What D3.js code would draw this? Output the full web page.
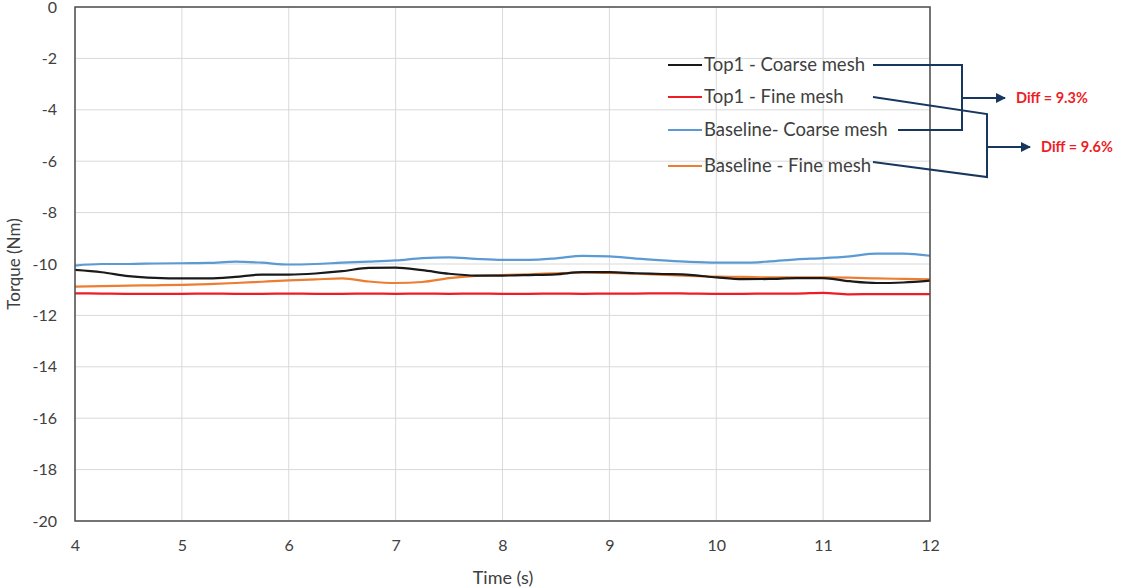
<!DOCTYPE html>
<html><head><meta charset="utf-8">
<script src="https://cdn.jsdelivr.net/npm/d3@7"></script>
<style>body{margin:0;background:#fff}svg{display:block;font-family:Lato,"Open Sans",sans-serif}</style>
</head><body><svg id="c" width="1127" height="588"></svg>
<script>
const times = [4,4.25,4.5,4.75,5,5.25,5.5,5.75,6,6.25,6.5,6.75,7,7.25,7.5,7.75,8,8.25,8.5,8.75,9,9.25,9.5,9.75,10,10.25,10.5,10.75,11,11.25,11.5,11.75,12];
const top1Coarse = [-10.23,-10.32,-10.47,-10.54,-10.56,-10.56,-10.5,-10.41,-10.41,-10.37,-10.28,-10.15,-10.14,-10.24,-10.38,-10.45,-10.45,-10.43,-10.4,-10.32,-10.32,-10.36,-10.39,-10.42,-10.52,-10.59,-10.58,-10.55,-10.55,-10.67,-10.74,-10.72,-10.65];
const top1Fine = [-11.14,-11.15,-11.16,-11.16,-11.16,-11.15,-11.16,-11.16,-11.15,-11.16,-11.16,-11.15,-11.16,-11.15,-11.16,-11.15,-11.16,-11.16,-11.15,-11.16,-11.15,-11.15,-11.14,-11.15,-11.16,-11.16,-11.15,-11.15,-11.12,-11.18,-11.17,-11.17,-11.17];
const baseCoarse = [-10.06,-10.0,-10.0,-9.98,-9.97,-9.96,-9.91,-9.95,-10.02,-10.0,-9.95,-9.91,-9.86,-9.77,-9.74,-9.8,-9.84,-9.84,-9.78,-9.68,-9.7,-9.79,-9.86,-9.92,-9.95,-9.95,-9.9,-9.82,-9.77,-9.7,-9.6,-9.6,-9.68];
const baseFine = [-10.88,-10.86,-10.84,-10.83,-10.81,-10.78,-10.74,-10.69,-10.64,-10.6,-10.56,-10.68,-10.74,-10.7,-10.55,-10.46,-10.43,-10.4,-10.36,-10.33,-10.35,-10.38,-10.42,-10.46,-10.49,-10.5,-10.52,-10.52,-10.52,-10.53,-10.56,-10.58,-10.6];
const seriesNames = ["Top1 - Coarse mesh","Top1 - Fine mesh","Baseline- Coarse mesh","Baseline - Fine mesh"];
const seriesColors = ["#1a1a1a","#ee1c25","#5b9bd5","#ed7d31"];
const xTicks = [4,5,6,7,8,9,10,11,12];
const yTicks = [0,-2,-4,-6,-8,-10,-12,-14,-16,-18,-20];
const diffLabels = ["Diff = 9.3%","Diff = 9.6%"];

const svg = d3.select("#c");
const L=75,R=930,T=7,B=521;
const x = d3.scaleLinear().domain([4,12]).range([L,R]);
const y = d3.scaleLinear().domain([-20,0]).range([B,T]);
const fmt = d => String(d);

// gridlines
svg.append("g").selectAll("line").data(xTicks).join("line")
  .attr("x1",d=>x(d)).attr("x2",d=>x(d)).attr("y1",T).attr("y2",B)
  .attr("stroke","#d9d9d9").attr("stroke-width",1);
svg.append("g").selectAll("line").data(yTicks).join("line")
  .attr("x1",L).attr("x2",R).attr("y1",d=>y(d)).attr("y2",d=>y(d))
  .attr("stroke","#d9d9d9").attr("stroke-width",1);

// axes labels
const xa = svg.append("g").attr("transform",`translate(0,${B})`)
  .call(d3.axisBottom(x).tickValues(xTicks).tickSize(0).tickPadding(19).tickFormat(fmt));
xa.select(".domain").remove();
xa.selectAll("text").attr("fill","#404040").style("font-size","16px").style("font-family","Lato");
const ya = svg.append("g").attr("transform",`translate(${L},0)`)
  .call(d3.axisLeft(y).tickValues(yTicks).tickSize(0).tickPadding(18).tickFormat(fmt));
ya.select(".domain").remove();
ya.selectAll("text").attr("fill","#404040").style("font-size","16px").style("font-family","Lato");

svg.append("text").attr("x",503).attr("y",584).attr("text-anchor","middle")
  .attr("fill","#404040").style("font-size","18px").text("Time (s)");
svg.append("text").attr("transform","translate(20,264) rotate(-90)").attr("text-anchor","middle")
  .attr("fill","#404040").style("font-size","17px").text("Torque (Nm)");

// series
const all = [top1Coarse, top1Fine, baseCoarse, baseFine];
const line = d3.line().x((d,i)=>x(times[i])).y(d=>y(d)).curve(d3.curveMonotoneX);
const order = [2,3,1,0];
order.forEach(k=>{
  svg.append("path").datum(all[k]).attr("d",line).attr("fill","none")
    .attr("stroke",seriesColors[k]).attr("stroke-width",2.2);
});

// border
svg.append("rect").attr("x",L).attr("y",T).attr("width",R-L).attr("height",B-T)
  .attr("fill","none").attr("stroke","#4d4d4d").attr("stroke-width",1.5);

// legend
const rows = [65,97,130,166];
const lg = svg.append("g");
seriesNames.forEach((n,i)=>{
  lg.append("line").attr("x1",668).attr("x2",702).attr("y1",rows[i]).attr("y2",rows[i])
    .attr("stroke",seriesColors[i]).attr("stroke-width",2);
  lg.append("text").attr("x",704).attr("y",rows[i]+6).attr("fill","#404040")
    .style("font-size","18.5px").text(n);
});

// connectors
const navy = "#17375e";
svg.append("defs").append("marker").attr("id","arr").attr("viewBox","0 0 10 10")
  .attr("refX",9).attr("refY",5).attr("markerWidth",5).attr("markerHeight",5).attr("orient","auto")
  .append("path").attr("d","M0,0L10,5L0,10z").attr("fill",navy);
const cg = svg.append("g").attr("fill","none").attr("stroke",navy).attr("stroke-width",2);
cg.append("path").attr("d","M873,65 H962 V130 H898");
cg.append("path").attr("d","M962,98 H1005").attr("marker-end","url(#arr)");
cg.append("path").attr("d","M873,97 L987,114 V177 L873,162");
cg.append("path").attr("d","M987,147 H1030").attr("marker-end","url(#arr)");
svg.append("text").attr("x",1016).attr("y",103).attr("fill","#ee1c25").style("font-weight","bold")
  .style("font-size","14.5px").text(diffLabels[0]);
svg.append("text").attr("x",1041).attr("y",152).attr("fill","#ee1c25").style("font-weight","bold")
  .style("font-size","14.5px").text(diffLabels[1]);
</script></body></html>
